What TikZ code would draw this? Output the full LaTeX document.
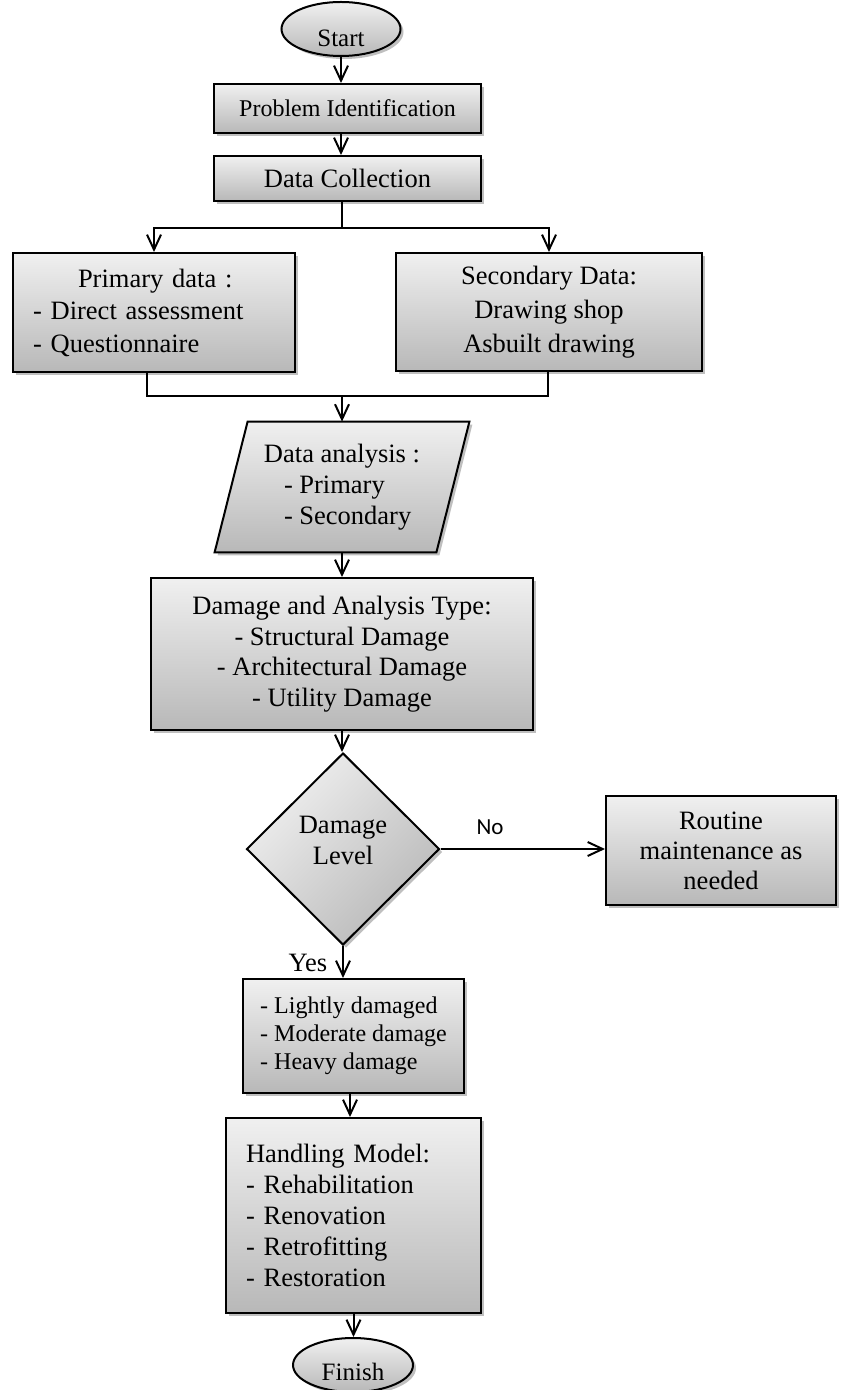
\documentclass[tikz,border=0pt]{standalone}
\usepackage{fontspec}
\setmainfont{Liberation Serif}
\newfontfamily\calibrifont{Carlito}
\usetikzlibrary{arrows.meta,shapes.geometric,shadows,calc,backgrounds}
\definecolor{gtop}{RGB}{240,240,240}
\definecolor{gbot}{RGB}{184,184,184}
\newcommand\myfontL{\fontsize{13.25pt}{15.5pt}\selectfont}
\newcommand\myfontS{\fontsize{12pt}{14pt}\selectfont}
\begin{document}
\begin{tikzpicture}[x=0.5pt,y=-0.5pt,
  gshape/.style={draw=black, line width=1pt, top color=gtop, bottom color=gbot,
    drop shadow={shadow xshift=1.5pt, shadow yshift=-1.5pt, opacity=0.25, fill=black}},
  gbox/.style={gshape, rectangle, inner sep=0pt},
  gell/.style={gshape, ellipse, inner sep=0pt},
  arr/.style={line width=1pt, -{Straight Barb[length=7.5pt,width=7pt]}},
  conn/.style={line width=1pt}]
\useasboundingbox (0,0) rectangle (851,1390);

% Start
\node[gell, minimum width=59.5pt, minimum height=27pt] (start) at (341,29) {};
\node[font=\fontsize{12.5pt}{14pt}\selectfont, inner sep=0pt] (startt) at (341,38) {Start};

% Problem Identification / Data Collection
\node[gbox, minimum width=133.5pt, minimum height=24.5pt, font=\myfontS] (pi) at (347.5,108.5) {Problem Identification};
\node[gbox, minimum width=133.5pt, minimum height=22.5pt, font=\myfontL] (dc) at (347.5,178.5) {Data Collection};

% Primary / Secondary
\node[gbox, text width=121pt, inner xsep=10pt, minimum height=59.5pt, align=left,
  font=\fontsize{13.25pt}{16.25pt}\selectfont] (prim) at (154,312.5)
  {\hspace*{22.5pt}Primary data :\\- Direct assessment\\- Questionnaire};
\node[gbox, minimum width=153pt, minimum height=59pt, align=center,
  font=\fontsize{13.25pt}{17pt}\selectfont] (sec) at (549,312)
  {Secondary Data:\\Drawing shop\\Asbuilt drawing};

% Data analysis (parallelogram)
\node[inner sep=0pt, minimum width=110.5pt, minimum height=65pt, align=left, font=\myfontL] (da) at (342,487)
  {Data analysis :\\\hspace*{10pt}- Primary\\\hspace*{10pt}- Secondary};
\begin{scope}[on background layer]
\draw[gshape] ($(da.north west)+(16.5,0)$) -- ($(da.north east)+(16.5,0)$)
  -- ($(da.south east)+(-16.5,0)$) -- ($(da.south west)+(-16.5,0)$) -- cycle;
\end{scope}

% Damage and Analysis Type
\node[gbox, minimum width=191pt, minimum height=76pt, align=center,
  font=\fontsize{13.25pt}{15.25pt}\selectfont] (dmg) at (342,654)
  {Damage and Analysis Type:\\- Structural Damage\\- Architectural Damage\\- Utility Damage};

% Decision
\node[gshape, diamond, shading angle=45, aspect=1, inner sep=0pt,
  minimum width=96.5pt, minimum height=96pt] (dl) at (343,849) {};
\node[font=\myfontL, align=center, inner sep=0pt] (dlt) at (343,840) {Damage\\Level};

% Routine maintenance
\node[gbox, minimum width=115pt, minimum height=54.5pt, align=center,
  font=\fontsize{13.25pt}{15pt}\selectfont] (rt) at (721,850.5)
  {Routine\\maintenance as\\needed};
\node[font=\calibrifont\fontsize{11.5pt}{13pt}\selectfont, inner sep=0pt] (no) at (490,827) {No};
\node[font=\myfontL, inner sep=0pt] (yes) at (308,963) {Yes};

% Damage categories
\node[gbox, minimum width=110.5pt, minimum height=57pt, align=left,
  font=\myfontS] (light) at (353.5,1036)
  {- Lightly damaged\\- Moderate damage\\- Heavy damage};

% Handling model
\node[gbox, text width=107.5pt, inner xsep=10pt, minimum height=97.5pt, align=left,
  font=\myfontL] (hand) at (353.5,1215.5)
  {Handling Model:\\- Rehabilitation\\- Renovation\\- Retrofitting\\- Restoration};

% Finish
\node[gell, minimum width=60pt, minimum height=27pt] (finish) at (353,1365) {};
\node[font=\fontsize{12.5pt}{14pt}\selectfont, inner sep=0pt] (finisht) at (353,1372) {Finish};

% Connectors
\draw[arr] (start.south) -- (start.south |- pi.north);
\draw[arr] (pi.south -| start.south) -- (dc.north -| start.south);
\coordinate (split) at (342,228);
\draw[conn] (dc.south -| split) -- (split);
\draw[arr] (split) -| (prim.north);
\draw[arr] (split) -| (sec.north);
\coordinate (join) at (342,396);
\coordinate (pj) at ($(prim.south)+(-7,0)$);
\coordinate (sj) at ($(sec.south)+(-1,0)$);
\draw[conn] (pj) |- (join);
\draw[conn] (sj) |- (join);
\draw[arr] (join) -- (join |- da.north);
\draw[arr] (da.south) -- (da.south |- dmg.north);
\draw[arr] (dmg.south) -- (dmg.south |- dl.north);
\draw[arr] (dl.east) -- (dl.east -| rt.west);
\draw[arr] (dl.south) -- (dl.south |- light.north);
\coordinate (lh) at ($(light.south)+(-3.5,0)$);
\draw[arr] (lh) -- (lh |- hand.north);
\draw[arr] (hand.south) -- (hand.south |- finish.north);
\end{tikzpicture}
\end{document}
